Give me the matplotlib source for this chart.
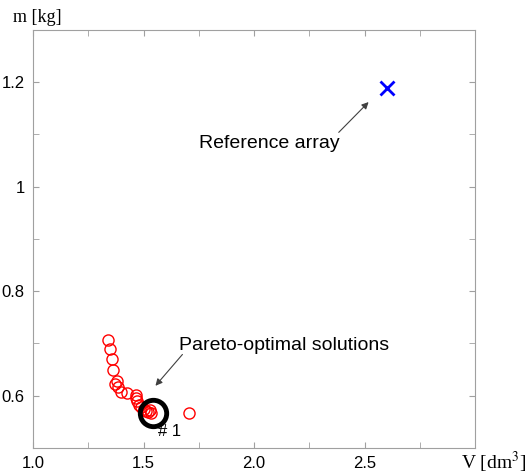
import numpy as np
import matplotlib
matplotlib.use("Agg")
import matplotlib.pyplot as plt
from matplotlib.ticker import MultipleLocator

# pareto front (volume dm^3, mass kg)
pareto_v = [1.338, 1.347, 1.356, 1.360, 1.378, 1.370, 1.383, 1.396, 1.423,
            1.464, 1.468, 1.472, 1.480, 1.488, 1.500, 1.512, 1.522, 1.530, 1.536, 1.707]
pareto_m = [0.707, 0.690, 0.671, 0.650, 0.629, 0.623, 0.617, 0.608, 0.606,
            0.602, 0.596, 0.589, 0.583, 0.578, 0.575, 0.571, 0.569, 0.572, 0.566, 0.566]
ref_v, ref_m = 2.6, 1.189
best_v, best_m = 1.541, 0.567

plt.rcParams["font.family"] = ["Liberation Sans", "DejaVu Sans"]

fig = plt.figure(figsize=(5.27, 4.74), dpi=100)
ax = fig.add_axes([0.0626, 0.0549, 0.839, 0.8819])

ax.plot(pareto_v, pareto_m, "o", mfc="none", mec="red", ms=8, mew=1)
ax.plot(ref_v, ref_m, "x", color="blue", ms=10, mew=2)
ax.plot(best_v, best_m, "o", mfc="none", mec="black", ms=19, mew=3.5)

ax.set_xlim(1.0, 3.0)
ax.set_ylim(0.5, 1.3)
ax.set_xticks([1.0, 1.5, 2.0, 2.5])
ax.set_xticklabels(["1.0", "1.5", "2.0", "2.5"])
ax.xaxis.set_minor_locator(MultipleLocator(0.25))
ax.set_yticks([0.6, 0.8, 1.0, 1.2])
ax.set_yticklabels(["0.6", "0.8", "1", "1.2"])
ax.yaxis.set_minor_locator(MultipleLocator(0.1))
ax.tick_params(which="both", direction="in", top=True, right=True,
               color="#a0a0a0", labelsize=12, pad=6, length=4)
for s in ax.spines.values():
    s.set_color("#a0a0a0")

arrow = dict(arrowstyle="-|>", color="#404040", lw=0.8,
             shrinkA=0, shrinkB=0, mutation_scale=10)
ax.text(2.07, 1.083, "Reference array", ha="center", va="center", fontsize=14)
ax.annotate("", xy=(2.518, 1.162), xytext=(2.383, 1.104), arrowprops=arrow)
ax.text(2.135, 0.696, "Pareto-optimal solutions", ha="center", va="center",
        fontsize=14)
ax.annotate("", xy=(1.554, 0.619), xytext=(1.676, 0.679), arrowprops=arrow)
ax.text(1.617, 0.531, "# 1", fontsize=12, ha="center", va="center")

fig.text(0.025, 0.964, "m [kg]", family="Liberation Serif", fontsize=13,
         ha="left", va="center")
fig.text(0.998, 0.025, r"V [dm$^3$]", family="Liberation Serif", fontsize=14,
         ha="right", va="center", math_fontfamily="stix")

fig.savefig("out.png", dpi=100)
